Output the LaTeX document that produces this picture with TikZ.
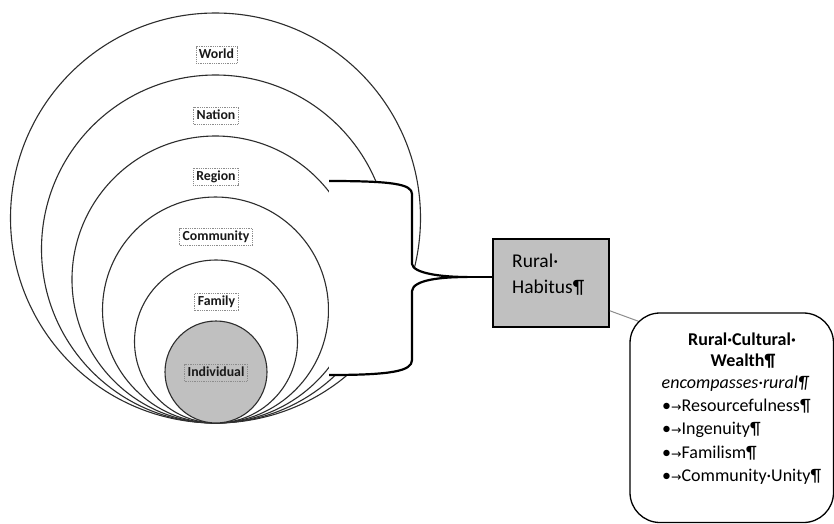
\documentclass[tikz,border=0pt]{standalone}
\usepackage{fontspec}
\setmainfont{Carlito}
\newfontfamily\dvfont{DejaVu Sans}
\usetikzlibrary{calc}
\definecolor{boxgray}{RGB}{192,192,192}
\definecolor{ringline}{RGB}{45,45,45}
\newcommand{\bularr}{•{\dvfont\fontsize{12.5}{12.5}\selectfont→}}
\begin{document}
\begin{tikzpicture}[x=1pt,y=-1pt,
  ring/.style={circle,draw=ringline,line width=1.1pt,inner sep=0pt,fill=white},
  lvl/.style={draw=black!45,dash pattern=on 0.9pt off 0.9pt,line width=0.7pt,
    font=\bfseries\fontsize{13.8}{15}\selectfont,text=black!90,inner xsep=3pt,inner ysep=0pt,
    minimum height=17pt,text height=10pt,text depth=3pt},
  brace/.style={line width=2.2pt,draw=black,line join=round},
  bigtxt/.style={font=\fontsize{19.5}{22}\selectfont,inner sep=0pt,anchor=base west},
  rtxt/.style={font=\fontsize{18}{21}\selectfont,inner sep=0pt}]
\useasboundingbox (0,0) rectangle (834,523);
% nested rings
\node[ring,minimum size=410pt] (world) at (215.5,218) {};
\node[ring,minimum size=348pt] (nation) at (215.5,249) {};
\node[ring,minimum size=287pt] (region) at (215.5,279.5) {};
\node[ring,minimum size=226pt] (community) at (215.5,310) {};
\node[ring,minimum size=163pt] (family) at (216,341.5) {};
\node[ring,minimum size=102pt,fill=boxgray] (individual) at (216,372) {};
% labels
\node[lvl] (lworld) at (216.5,55) {World};
\node[lvl] (lnation) at (216,115.5) {Nation};
\node[lvl] (lregion) at (216,176.5) {Region};
\node[lvl] (lcommunity) at (216,237) {Community};
\node[lvl] (lfamily) at (216.5,301.5) {Family};
\node[lvl] (lindividual) at (216,372.5) {Individual};
% rural habitus box
\node[draw=black,line width=1.5pt,fill=boxgray,minimum width=116pt,minimum height=88pt,inner sep=0pt] (hab) at (551,283) {};
\node[bigtxt] (habA) at (512,267) {Rural·};
\node[bigtxt] (habB) at (512,293) {Habitus¶};
% brace
\coordinate (bt) at (329,181);
\coordinate (bb) at (329,375);
\coordinate (bj) at ($(hab.west)+(0,-6)$);
\coordinate (bm) at ($(bj)+(-25,0)$);
\path[fill=white] (bt) .. controls (392,181) and (412,184) .. (412,194) -- (412,264)
  .. controls (413,273) and (440,277) .. (bm)
  .. controls (440,277) and (413,280) .. (412,291) -- (412,360)
  .. controls (412,371) and (392,375) .. (bb) -- cycle;
\draw[brace] (bt) .. controls (392,181) and (412,184) .. (412,194) -- (412,264)
  .. controls (413,273) and (440,277) .. (bm)
  .. controls (440,277) and (413,280) .. (412,291) -- (412,360)
  .. controls (412,371) and (392,375) .. (bb);
\draw[brace] (bm) -- (bj);
% rural cultural wealth box
\node[draw=black,line width=1.3pt,rounded corners=30pt,minimum width=203.5pt,minimum height=209.5pt,inner sep=0pt] (rcw) at (731.75,417.75) {};
\draw[draw=black!45,line width=1pt] ($(hab.south east)+(0,-17)$) -- ($(rcw.north west)+(8.8,8.8)$);
\node[rtxt,font=\bfseries\fontsize{18}{21}\selectfont,anchor=base] (t1) at (742,345.7) {Rural·Cultural·};
\node[rtxt,font=\bfseries\fontsize{18}{21}\selectfont,anchor=base] (t2) at (743,366.7) {Wealth¶};
\node[rtxt,font=\itshape\fontsize{18}{21}\selectfont,anchor=base west] (t3) at (661.5,388.3) {encompasses·rural¶};
\node[rtxt,anchor=base west] (b1) at (662,411) {\bularr Resourcefulness¶};
\node[rtxt,anchor=base west] (b2) at (662,434.5) {\bularr Ingenuity¶};
\node[rtxt,anchor=base west] (b3) at (662,458) {\bularr Familism¶};
\node[rtxt,anchor=base west] (b4) at (662,481.7) {\bularr Community·Unity¶};
\end{tikzpicture}
\end{document}
